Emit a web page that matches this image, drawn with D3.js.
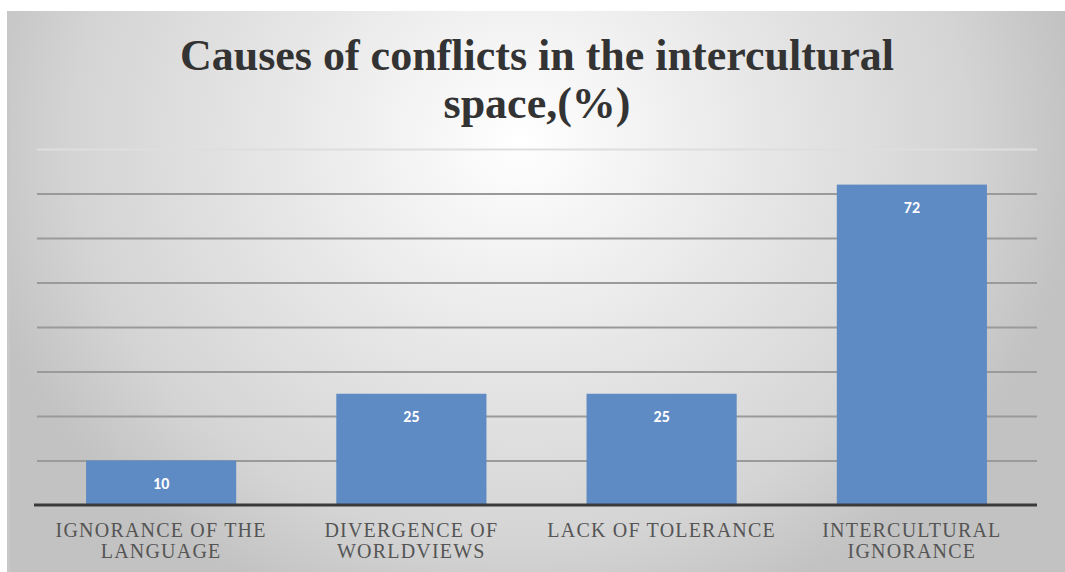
<!DOCTYPE html>
<html><head><meta charset="utf-8">
<script src="https://cdn.jsdelivr.net/npm/d3@7"></script>
<style>body{margin:0;background:#fff}svg{display:block}</style>
</head><body>
<script>
const categories = [["IGNORANCE OF THE","LANGUAGE"],["DIVERGENCE OF","WORLDVIEWS"],["LACK OF TOLERANCE"],["INTERCULTURAL","IGNORANCE"]];
const values = [10, 25, 25, 72];
const gridTicks = [10, 20, 30, 40, 50, 60, 70, 80];
const titleLines = ["Causes of conflicts in the intercultural", "space,(%)"];

const W = 1065, H = 572;
const svg = d3.select("body").append("svg").attr("width", W).attr("height", H);
const defs = svg.append("defs");
const rg = defs.append("radialGradient").attr("id","bg").attr("gradientUnits","userSpaceOnUse")
  .attr("cx",520).attr("cy",140).attr("r",560)
  .attr("gradientTransform","translate(520,140) scale(1,0.9) translate(-520,-140)");
rg.append("stop").attr("offset","0%").attr("stop-color","#ffffff");
rg.append("stop").attr("offset","45%").attr("stop-color","#e6e6e6");
rg.append("stop").attr("offset","80%").attr("stop-color","#d4d4d4");
rg.append("stop").attr("offset","100%").attr("stop-color","#c2c2c2");

svg.append("rect").attr("x",7).attr("y",11).attr("width",W-7).attr("height",H-11).attr("fill","url(#bg)");
svg.append("rect").attr("x",7).attr("y",11).attr("width",3).attr("height",H-11).attr("fill","#c8c8c8");

const labels = categories.map(c => c.join(" "));
const x = d3.scaleBand().domain(labels).range([36, 1037]).paddingInner(0.4).paddingOuter(0.2);
const y = d3.scaleLinear().domain([0, 80]).range([505, 149]);

const gridG = svg.append("g").attr("transform","translate(37,0)")
  .call(d3.axisLeft(y).tickValues(gridTicks).tickSize(-(1037-37)).tickFormat(""));
gridG.select(".domain").remove();
gridG.selectAll(".tick line").attr("stroke", d => d === 80 ? "#dedede" : "#9a9a9a").attr("stroke-width", 2);

svg.append("g").selectAll("rect").data(values).join("rect")
  .attr("x",(d,i)=>x(labels[i])).attr("width",x.bandwidth())
  .attr("y",d=>y(d)).attr("height",d=>y(0)-y(d)).attr("fill","#5f8bc4");

const xa = svg.append("g").attr("transform",`translate(0,${y(0)})`).call(d3.axisBottom(x).tickSize(0).tickFormat(""));
xa.select(".domain").attr("stroke","#3a3a3a").attr("stroke-width",3).attr("d","M34,0H1037");

svg.append("g").selectAll("text").data(values).join("text")
  .attr("x",(d,i)=>x(labels[i])+x.bandwidth()/2).attr("y",d=>y(d)+28)
  .attr("text-anchor","middle").attr("fill","#fff").attr("font-family","Carlito, 'Open Sans', sans-serif")
  .attr("font-weight","bold").attr("font-size",16).text(d=>d);

const cl = svg.append("g").selectAll("text").data(categories).join("text")
  .attr("text-anchor","middle").attr("fill","#555").attr("font-family","'Liberation Serif', 'DejaVu Serif', serif")
  .attr("font-size",20).attr("letter-spacing",1.2)
  .attr("x",(d,i)=>x(labels[i])+x.bandwidth()/2).attr("y",537);
cl.selectAll("tspan").data(d=>d).join("tspan")
  .attr("x",function(){return this.parentNode.getAttribute("x");})
  .attr("dy",(d,i)=>i===0?0:21).text(d=>d);

svg.append("g").selectAll("text").data(titleLines).join("text")
  .attr("x",537).attr("y",(d,i)=>70+i*48).attr("text-anchor","middle")
  .attr("font-family","'Liberation Serif', serif").attr("font-weight","bold").attr("font-size",44)
  .attr("fill","#333").text(d=>d);
</script>
</body></html>
